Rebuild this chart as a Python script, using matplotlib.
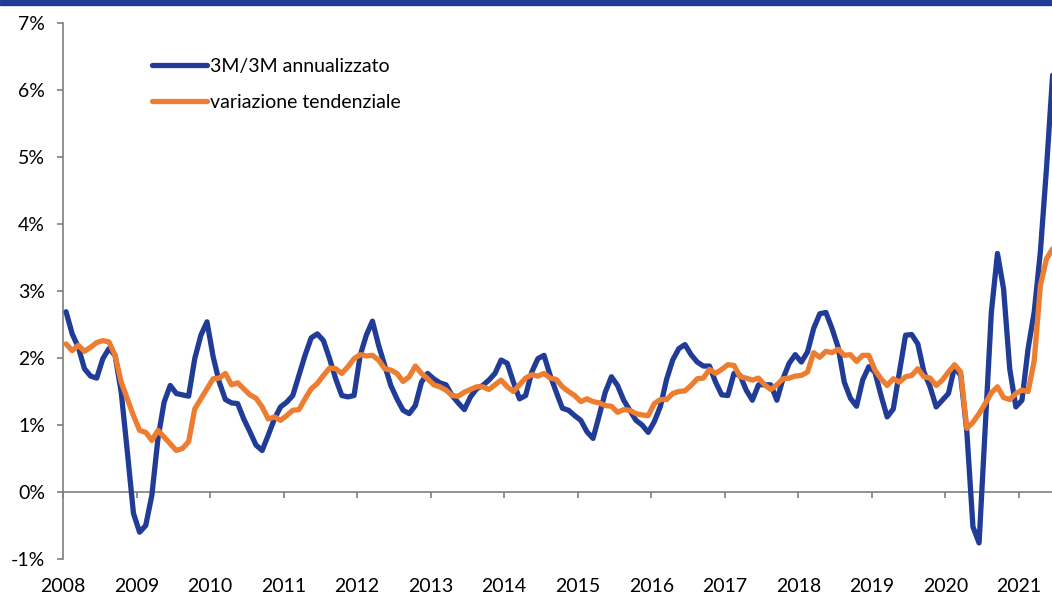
import numpy as np
import matplotlib
matplotlib.use("Agg")
import matplotlib.pyplot as plt
from matplotlib.patches import Rectangle

plt.rcParams['font.family'] = ['Lato', 'DejaVu Sans']

# ---- data (monthly, Jan 2008 - Jun 2021, % values) ----
START_YEAR = 2008
YEAR_TICKS = list(range(2008, 2022))
Y_TICKS = [-1, 0, 1, 2, 3, 4, 5, 6, 7]

label_3m = "3M/3M annualizzato"
label_yoy = "variazione tendenziale"

ann_3m = [
    2.69, 2.36, 2.16, 1.84, 1.73, 1.70, 1.99, 2.14, 2.04, 1.49, 0.60, -0.32,
    -0.60, -0.50, -0.05, 0.80, 1.34, 1.59, 1.47, 1.45, 1.43, 1.99, 2.34, 2.54,
    2.02, 1.64, 1.38, 1.33, 1.32, 1.09, 0.90, 0.70, 0.62, 0.85, 1.09, 1.27,
    1.34, 1.44, 1.74, 2.04, 2.30, 2.36, 2.26, 1.99, 1.69, 1.44, 1.42, 1.44,
    2.04, 2.34, 2.55, 2.19, 1.89, 1.59, 1.39, 1.22, 1.17, 1.29, 1.64, 1.77,
    1.69, 1.63, 1.60, 1.44, 1.33, 1.23, 1.42, 1.54, 1.59, 1.67, 1.77, 1.97,
    1.92, 1.64, 1.39, 1.44, 1.79, 1.99, 2.04, 1.74, 1.49, 1.25, 1.22, 1.14,
    1.07, 0.90, 0.80, 1.14, 1.49, 1.72, 1.59, 1.37, 1.22, 1.07, 1.00, 0.89,
    1.05, 1.28, 1.68, 1.97, 2.14, 2.20, 2.05, 1.94, 1.88, 1.88, 1.64, 1.45,
    1.44, 1.77, 1.74, 1.52, 1.37, 1.60, 1.60, 1.60, 1.37, 1.69, 1.92, 2.05,
    1.94, 2.09, 2.44, 2.66, 2.68, 2.44, 2.16, 1.64, 1.40, 1.28, 1.67, 1.87,
    1.79, 1.44, 1.12, 1.24, 1.79, 2.34, 2.35, 2.21, 1.79, 1.57, 1.27, 1.37,
    1.47, 1.87, 1.74, 0.90, -0.52, -0.76, 0.95, 2.68, 3.56, 3.03, 1.84, 1.27,
    1.37, 2.14, 2.69, 3.58, 4.83, 6.22,
]

yoy = [
    2.21, 2.11, 2.19, 2.10, 2.16, 2.23, 2.26, 2.24, 2.04, 1.64, 1.39, 1.14,
    0.92, 0.89, 0.77, 0.92, 0.82, 0.72, 0.62, 0.65, 0.75, 1.24, 1.39, 1.54,
    1.69, 1.70, 1.77, 1.60, 1.63, 1.54, 1.45, 1.40, 1.27, 1.09, 1.12, 1.07,
    1.14, 1.22, 1.23, 1.39, 1.54, 1.62, 1.74, 1.85, 1.84, 1.77, 1.87, 1.99,
    2.05, 2.03, 2.04, 1.97, 1.84, 1.82, 1.77, 1.65, 1.72, 1.88, 1.77, 1.69,
    1.60, 1.57, 1.52, 1.44, 1.43, 1.49, 1.53, 1.57, 1.57, 1.53, 1.60, 1.67,
    1.57, 1.50, 1.60, 1.70, 1.75, 1.73, 1.77, 1.70, 1.68, 1.57, 1.50, 1.44,
    1.35, 1.39, 1.35, 1.33, 1.29, 1.28, 1.19, 1.23, 1.22, 1.17, 1.15, 1.14,
    1.32, 1.38, 1.38, 1.47, 1.50, 1.51, 1.59, 1.69, 1.70, 1.83, 1.77, 1.83,
    1.90, 1.89, 1.72, 1.70, 1.67, 1.70, 1.60, 1.53, 1.60, 1.69, 1.70, 1.73,
    1.74, 1.79, 2.08, 2.01, 2.10, 2.08, 2.13, 2.04, 2.05, 1.95, 2.04, 2.04,
    1.82, 1.69, 1.59, 1.69, 1.64, 1.72, 1.74, 1.84, 1.72, 1.70, 1.59, 1.67,
    1.79, 1.90, 1.79, 0.95, 1.04, 1.17, 1.32, 1.48, 1.57, 1.41, 1.38, 1.47,
    1.52, 1.50, 1.96, 3.08, 3.48, 3.63,
]

BLUE = '#203c96'
ORANGE = '#ed7d31'
GREY = '#7f7f7f'

# points sit in the middle of each month
t = START_YEAR + (np.arange(len(ann_3m)) + 0.5) / 12.0

fig = plt.figure(figsize=(10.52, 5.97), dpi=100)
ax = fig.add_axes([63 / 1052, 1 - 559 / 597, 1 - 63 / 1052, (559 - 23) / 597])

ax.plot(t, ann_3m, color=BLUE, lw=3.8, label=label_3m,
        solid_joinstyle='round', solid_capstyle='round', zorder=3)
ax.plot(t, yoy, color=ORANGE, lw=3.8, label=label_yoy,
        solid_joinstyle='round', solid_capstyle='round', zorder=4)

ax.set_xlim(START_YEAR, 2021.45)
ax.set_ylim(-1, 7)

ax.set_yticks(Y_TICKS)
ax.set_yticklabels([f"{v}%" for v in Y_TICKS])
ax.set_xticks(YEAR_TICKS)
ax.set_xticklabels([str(y) for y in YEAR_TICKS])

for s in ['top', 'right', 'bottom']:
    ax.spines[s].set_visible(False)
ax.spines['left'].set_color(GREY)
ax.spines['left'].set_linewidth(1.2)
ax.tick_params(axis='y', direction='out', length=4, width=1.2, color=GREY,
               labelsize=14, pad=9, labelcolor='black')
ax.tick_params(axis='x', length=0, labelsize=14, pad=14, labelcolor='black')

# axis line and tick marks at the 0% level
zero = ax.secondary_xaxis((0 - (-1)) / (7 - (-1)))
zero.set_xticks(YEAR_TICKS)
zero.set_xticklabels([])
zero.spines['bottom'].set_color(GREY)
zero.spines['bottom'].set_linewidth(1.2)
zero.tick_params(axis='x', direction='out', length=4, width=1.2, color=GREY)

leg = ax.legend(loc='upper left', bbox_to_anchor=(0.082, 0.95), frameon=False,
                fontsize=14, handlelength=2.85, handletextpad=0.12,
                labelspacing=1.0, borderaxespad=0)

# dark band across the top
fig.patches.append(Rectangle((0, 1 - 5 / 597), 1, 5 / 597, transform=fig.transFigure,
                             color=BLUE, zorder=0))

fig.savefig('out.png', dpi=100)
